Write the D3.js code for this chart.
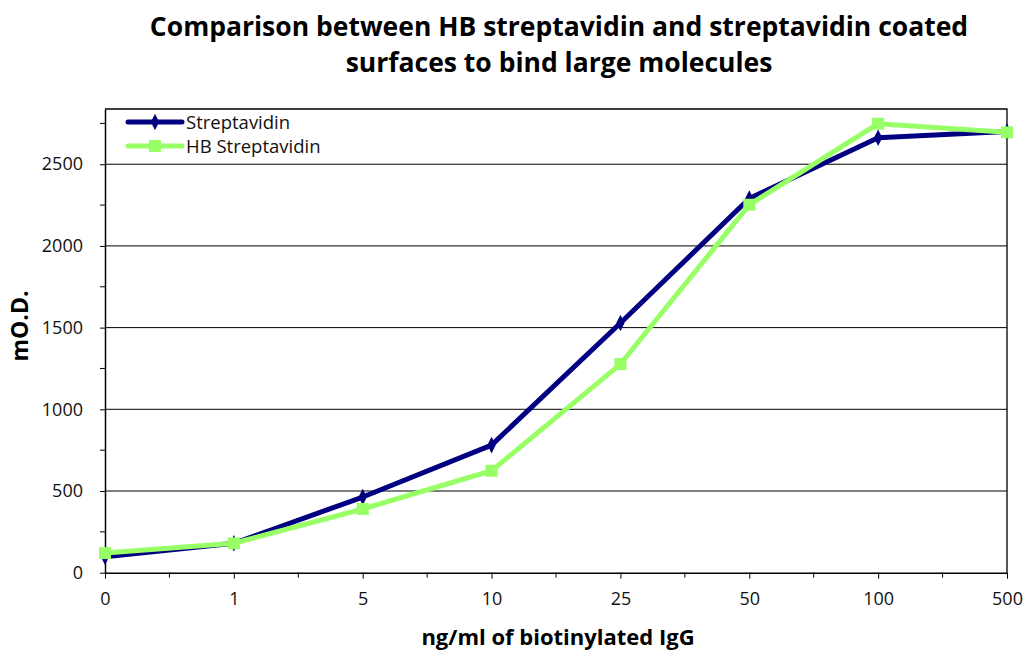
<!DOCTYPE html>
<html>
<head>
<meta charset="utf-8">
<script src="https://cdn.jsdelivr.net/npm/d3@7"></script>
<style>
  body { margin: 0; background: #fff; }
  svg { display: block; font-family: "Open Sans", "DejaVu Sans", sans-serif; }
</style>
</head>
<body>
<svg id="chart" width="1027" height="653"></svg>
<script>
// podatki
var doses = ["0", "1", "5", "10", "25", "50", "100", "500"];
var streptavidin = [98, 180, 463, 781, 1528, 2290, 2662, 2700];
var hbStreptavidin = [120, 180, 390, 624, 1277, 2252, 2748, 2695];
var yTicks = [0, 500, 1000, 1500, 2000, 2500];
var seriesNames = ["Streptavidin", "HB Streptavidin"];

var width = 1027, height = 653;
var margin = {top: 109, right: 20, bottom: 80, left: 105};
var plotW = 1007 - margin.left;
var plotH = 572.7 - margin.top;

var svg = d3.select("#chart");
var g = svg.append("g").attr("transform", `translate(${margin.left},${margin.top})`);

var x = d3.scalePoint()
  .domain(doses)
  .range([0, plotW]);

var y = d3.scaleLinear()
  .domain([0, 2838])
  .range([plotH, 0]);

// mreža
g.append("g")
  .selectAll("line")
  .data(yTicks.slice(1))
  .enter().append("line")
    .attr("x1", 0)
    .attr("x2", plotW)
    .attr("y1", d => y(d))
    .attr("y2", d => y(d))
    .attr("stroke", "#000")
    .attr("stroke-width", 1);

// okvir (zgoraj, desno)
g.append("path")
  .attr("d", `M0,0H${plotW}V${plotH}`)
  .attr("fill", "none")
  .attr("stroke", "#000")
  .attr("stroke-width", 1.3);

// y os - glavne in pomožne oznake
var yAxis = g.append("g")
  .call(d3.axisLeft(y).tickValues(yTicks).tickFormat(d3.format("d")).tickSize(5).tickPadding(17).tickSizeOuter(0));
yAxis.select(".domain").attr("stroke-width", 1.5);
yAxis.selectAll("text")
  .attr("font-size", "18px")
  .attr("fill", "#111")
  .attr("font-family", "'Open Sans', sans-serif");

var minorY = d3.range(250, 2838, 500);
g.append("g")
  .selectAll("line")
  .data(minorY)
  .enter().append("line")
    .attr("x1", -5).attr("x2", 0)
    .attr("y1", d => y(d)).attr("y2", d => y(d))
    .attr("stroke", "#000");

// x os
var xAxis = g.append("g")
  .attr("transform", `translate(0,${plotH})`)
  .call(d3.axisBottom(x).tickSize(6).tickPadding(14).tickSizeOuter(0));
xAxis.select(".domain").attr("stroke-width", 1.5);
xAxis.selectAll("text")
  .attr("font-size", "18px")
  .attr("fill", "#111")
  .attr("font-family", "'Open Sans', sans-serif");

var step = x.step();
g.append("g")
  .selectAll("line")
  .data(doses.slice(0, -1))
  .enter().append("line")
    .attr("x1", d => x(d) + step / 2).attr("x2", d => x(d) + step / 2)
    .attr("y1", plotH).attr("y2", plotH + 5)
    .attr("stroke", "#000");

// črte
var line = d3.line()
  .x((d, i) => x(doses[i]))
  .y(d => y(d));

var navy = "#000080", green = "#99ff66";

g.append("path")
  .datum(streptavidin)
  .attr("d", line)
  .attr("fill", "none")
  .attr("stroke", navy)
  .attr("stroke-width", 5)
  .attr("stroke-linejoin", "round");

g.append("path")
  .datum(hbStreptavidin)
  .attr("d", line)
  .attr("fill", "none")
  .attr("stroke", green)
  .attr("stroke-width", 5)
  .attr("stroke-linejoin", "round");

var diamond = d3.symbol().type(d3.symbolDiamond).size(60);
g.append("g")
  .selectAll("path")
  .data(streptavidin)
  .enter().append("path")
    .attr("d", diamond)
    .attr("transform", (d, i) => `translate(${x(doses[i])},${y(d)}) scale(1,1.15)`)
    .attr("fill", navy);

g.append("g")
  .selectAll("rect")
  .data(hbStreptavidin)
  .enter().append("rect")
    .attr("x", (d, i) => x(doses[i]) - 6)
    .attr("y", d => y(d) - 6)
    .attr("width", 12)
    .attr("height", 12)
    .attr("fill", green);

// legenda
var legend = svg.append("g").attr("transform", "translate(128,122)");
[navy, green].forEach(function(c, i) {
  var ly = i * 24;
  legend.append("line")
    .attr("x1", 0).attr("x2", 54)
    .attr("y1", ly).attr("y2", ly)
    .attr("stroke", c).attr("stroke-width", 5)
    .attr("stroke-linecap", "round");
  if (i == 0) {
    legend.append("path")
      .attr("d", diamond)
      .attr("transform", `translate(27,${ly}) scale(1,1.15)`)
      .attr("fill", c);
  } else {
    legend.append("rect")
      .attr("x", 21).attr("y", ly - 6)
      .attr("width", 12).attr("height", 12)
      .attr("fill", c);
  }
  legend.append("text")
    .attr("x", 58)
    .attr("y", ly)
    .attr("dy", "0.36em")
    .attr("font-size", "18.5px")
    .attr("fill", "#111")
    .text(seriesNames[i]);
});

// naslovi
var title = svg.append("text")
  .attr("x", 559)
  .attr("text-anchor", "middle")
  .attr("font-size", "26.5px")
  .attr("font-weight", "bold")
  .attr("fill", "#000");
title.append("tspan").attr("x", 559).attr("y", 36).text("Comparison between HB streptavidin and streptavidin coated");
title.append("tspan").attr("x", 559).attr("y", 72).text("surfaces to bind large molecules");

svg.append("text")
  .attr("x", 558)
  .attr("y", 645)
  .attr("text-anchor", "middle")
  .attr("font-size", "22px")
  .attr("font-weight", "bold")
  .text("ng/ml of biotinylated IgG");

svg.append("text")
  .attr("transform", "translate(28,326) rotate(-90)")
  .attr("text-anchor", "middle")
  .attr("font-size", "23px")
  .attr("font-weight", "bold")
  .text("mO.D.");
</script>
</body>
</html>
